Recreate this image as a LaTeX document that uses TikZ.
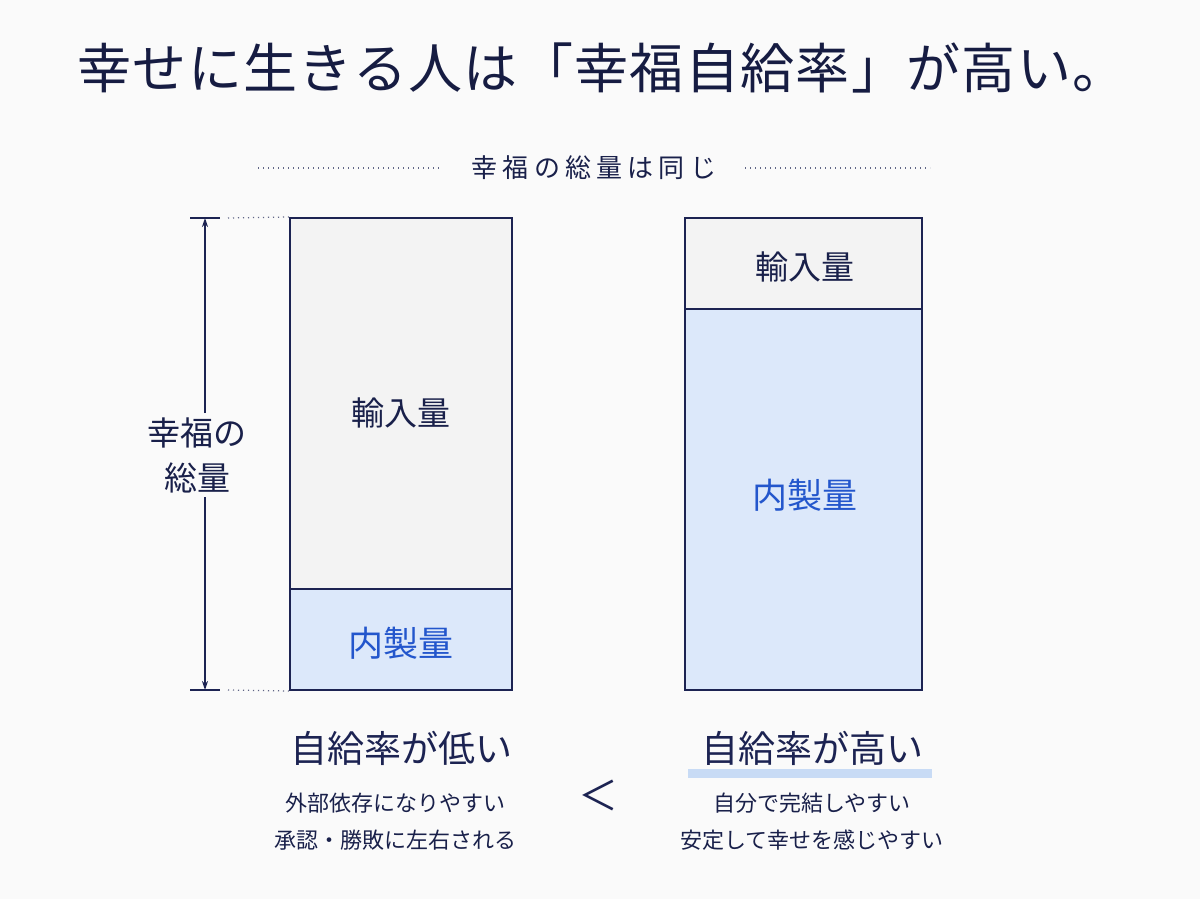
\documentclass[tikz,border=0pt]{standalone}
\usepackage{fontspec}
\setmainfont{Noto Sans CJK JP}
\usetikzlibrary{positioning, arrows.meta}
\definecolor{navy}{HTML}{1C2352}
\definecolor{inkblue}{HTML}{2356CC}
\definecolor{paleblue}{HTML}{DCE8FA}
\definecolor{palegray}{HTML}{F3F3F3}
\definecolor{markblue}{HTML}{C8DBF5}
\definecolor{bgcol}{HTML}{FAFAFA}
\tikzset{%
  imported/.style = {rectangle, draw=navy, line width=2pt, fill=palegray, minimum width=#1, inner sep=0pt},
  homemade/.style = {rectangle, draw=navy, line width=2pt, fill=paleblue, minimum width=#1, inner sep=0pt},
  barlabel/.style = {text=navy!90!black, font=\fontsize{33}{45}\selectfont},
  ownlabel/.style = {text=inkblue, font=\fontsize{35}{40}\selectfont},
  verdict/.style = {text=navy, font=\fontsize{37}{42}\selectfont},
  remark/.style = {text=navy!90!black, font=\fontsize{22}{26}\selectfont},
  guide/.style = {navy!70, line width=1.2pt, dash pattern=on 1.2pt off 3.8pt},
  measure/.style = {navy, line width=1.8pt}
}

\begin{document}
\begin{tikzpicture}[x=1pt, y=-1pt]
    \useasboundingbox[fill=bgcol] (0,0) rectangle (1200,899);

    \node (title) at (602,68) [text=navy!80!black, font=\fontsize{54}{60}\selectfont\addfontfeature{LetterSpace=2.5}] {幸せに生きる人は「幸福自給率」が高い。};
    \node (same)  at (594,168) [text=navy!90!black, font=\fontsize{26}{30}\selectfont\addfontfeature{LetterSpace=20}] {幸福の総量は同じ};
    \coordinate (sameL) at (440,168);
    \coordinate (sameR) at (745,168);
    \draw[guide] (258,168) -- (sameL);
    \draw[guide] (sameR) -- (930,168);

    % left bar
    \node (impL) at (401,403.5) [imported=222pt, minimum height=371pt] {};
    \node (ownL) at (401,639.5) [homemade=222pt, minimum height=101pt] {};
    \node at (401,413) [barlabel] {輸入量};
    \node at (401,643) [ownlabel] {内製量};

    % right bar
    \node (impR) at (803.5,263.5) [imported=237pt, minimum height=91pt] {};
    \node (ownR) at (803.5,499.5) [homemade=237pt, minimum height=381pt] {};
    \node at (805,267) [barlabel] {輸入量};
    \node at (805,495) [ownlabel] {内製量};

    % total height
    \coordinate (top) at (205,218);
    \coordinate (bot) at (205,690);
    \node (total) at (197,455) [barlabel, align=center, inner sep=4pt] {幸福の\\総量};
    \draw[measure, -{Stealth[length=9pt, width=6pt]}] (total.north -| top) -- (top);
    \draw[measure, -{Stealth[length=9pt, width=6pt]}] (total.south -| bot) -- (bot);
    \draw[measure] (190,218) -- (220,218)
                   (190,690) -- (220,690);
    \draw[guide] (228,218) -- (impL.north west);
    \draw[guide] (228,690) -- (ownL.south west);

    % verdicts
    \node (low)  at (401,748) [verdict] {自給率が低い};
    \node (high) at (812,748) [verdict] {自給率が高い};
    \fill[markblue] (688,769) rectangle (932,778);
    \node (lowA)  at (395,803) [remark] {外部依存になりやすい};
    \node (lowB)  at (395,840) [remark] {承認・勝敗に左右される};
    \node (highA) at (812,803) [remark] {自分で完結しやすい};
    \node (highB) at (812,840) [remark] {安定して幸せを感じやすい};
    \node (less)  at (598,795) [text=navy, font=\fontsize{40}{44}\selectfont] {＜};
  \end{tikzpicture}
\end{document}
